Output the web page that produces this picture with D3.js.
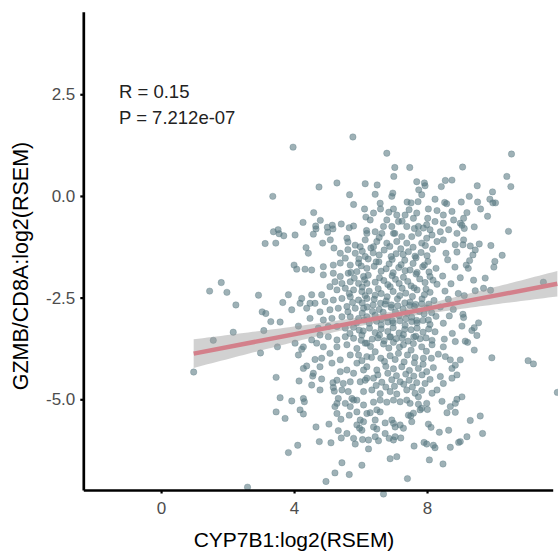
<!DOCTYPE html>
<html><head><meta charset="utf-8">
<script src="https://cdn.jsdelivr.net/npm/d3@7"></script>
<style>body{margin:0;background:#fff} text{font-family:"Liberation Sans",Arial,sans-serif}</style>
</head><body><svg id="c" width="558" height="557"></svg>
<script>
// CYP7B1 log2(RSEM) vs GZMB/CD8A log2(RSEM)
const samples = [
[3.36,-0.01],[3.38,-0.88],[3.52,-0.83],[3.55,-0.93],[3.13,-1.17],[3.45,-1.16],[1.81,-2.13],[1.46,-2.34],[1.98,-2.37],[2.93,-2.44],[2.25,-2.68],[3.04,-2.85],[3.15,-2.89],[3.30,-3.09],[3.58,-3.10],[1.57,-3.55],[2.17,-3.35],[3.09,-3.31],[2.99,-3.86],[3.50,-3.71],[0.98,-4.33],[3.46,-4.46],[3.58,-4.96],[3.46,-5.31],[2.60,-7.16],
[3.97,1.20],[5.77,1.45],[4.75,0.22],[5.29,0.32],[6.14,0.30],[5.67,0.03],[5.79,-0.21],[6.12,-0.32],[4.59,-0.41],[6.16,-0.52],[4.27,-0.65],[4.79,-0.60],[3.69,-0.98],[4.03,-0.96],[4.66,-0.81],[4.65,-0.74],[5.00,-0.77],[5.15,-0.72],[5.42,-0.69],[5.17,-0.81],[5.01,-0.89],[4.58,-0.94],[5.09,-1.08],[5.66,-0.78],[5.79,-0.74],[6.18,-0.85],[5.59,-1.04],[5.62,-1.13],[4.36,-1.27],[5.20,-1.28],[5.84,-1.21],[5.99,-1.25],
[6.79,1.05],[7.03,0.70],[7.48,0.70],[7.00,0.48],[9.07,0.71],[10.54,1.03],[10.40,0.48],[10.52,0.23],[7.69,0.35],[7.92,0.32],[7.94,0.25],[8.55,0.38],[8.75,0.39],[8.43,0.23],[9.51,0.25],[6.50,0.27],[6.44,0.04],[6.94,-0.01],[6.97,0.07],[7.75,0.15],[7.84,0.03],[9.27,-0.01],[9.97,0.10],[9.89,-0.08],[9.98,-0.17],[10.06,-0.17],[7.40,-0.15],[7.52,-0.17],[7.73,-0.14],[8.24,-0.08],[8.53,-0.16],[8.59,-0.19],[9.03,-0.15],[9.52,-0.15],[9.61,-0.32],[9.82,-0.50],[9.20,-0.41],[10.45,-0.87],[9.05,-0.72],[9.12,-0.80],[9.42,-0.76],[9.92,-1.22],[10.26,-1.46],[10.01,-1.75],[10.04,-1.61],[9.75,-2.02],[9.40,-2.07],[9.91,-2.32],[11.50,-2.12],[9.08,-1.20],[9.30,-1.23],[9.57,-1.18],[9.45,-1.33],[9.38,-1.45],[9.28,-1.59],[9.18,-1.70],[9.24,-1.78],[9.70,-2.27],[9.45,-2.33],[9.12,-2.45],[9.08,-2.91],[9.10,-2.99],[9.05,-3.20],[9.55,-3.12],[9.42,-3.24],[9.35,-3.31],[9.50,-3.43],[9.15,-3.57],[9.22,-3.60],[9.42,-3.79],[9.95,-3.98],[11.04,-4.05],[11.20,-4.13],[11.92,-4.83],[9.05,-4.94],[9.30,-5.52],[9.60,-5.41],[9.67,-5.84],[9.00,-6.04],
[6.59,-0.18],[6.60,-0.32],[6.99,-0.32],[6.39,-0.42],[6.29,-0.59],[6.79,-0.59],[7.09,-0.47],[7.34,-0.47],[7.59,-0.55],[7.69,-0.42],[8.04,-0.32],[8.30,-0.36],[8.49,-0.47],[8.75,-0.38],[8.80,-0.59],[9.00,-0.67],[9.10,-0.55],[8.49,-0.67],[8.24,-0.63],[7.99,-0.71],[8.09,-0.83],[7.89,-0.79],[7.74,-0.75],[7.39,-0.75],[7.14,-0.63],[6.94,-0.75],[6.69,-0.75],[6.44,-0.88],[6.19,-0.92],[6.14,-1.08],[6.64,-0.92],[6.99,-0.92],[7.24,-1.00],[7.54,-1.00],[7.74,-0.92],[8.15,-0.96],[8.40,-0.88],[8.65,-0.83],[8.90,-0.92],[8.49,-1.08],[8.30,-1.12],[7.99,-1.04],[7.84,-1.16],[7.39,-1.16],[7.09,-1.12],[6.79,-1.16],[6.49,-1.12],[6.39,-1.25],[9.10,-1.08],[8.85,-1.20],
[6.85,-0.40],[7.25,-0.62],[7.62,-0.80],[7.03,-0.92],[6.56,-1.02],[8.02,-0.55],[7.46,-0.34],
[4.86,-1.16],[4.43,-1.41],[5.39,-1.41],[5.54,-1.53],[5.84,-1.41],[6.14,-1.49],[4.00,-1.70],[4.08,-1.80],[4.33,-1.80],[4.53,-1.82],[4.88,-1.74],[5.18,-1.70],[5.39,-1.65],[5.69,-1.70],[5.94,-1.65],[6.19,-1.78],[4.88,-1.94],[5.18,-1.90],[5.39,-1.98],[5.63,-1.90],[5.89,-1.86],[6.09,-1.98],[5.23,-2.11],[5.44,-2.15],[5.69,-2.11],[5.94,-2.15],[6.19,-2.15],[5.08,-2.23],[5.29,-2.31],[5.54,-2.27],[5.79,-2.31],[6.04,-2.35],[3.83,-2.43],[4.23,-2.52],[4.53,-2.43],[4.83,-2.43],[4.63,-2.64],[4.38,-2.76],[4.93,-2.60],[5.18,-2.56],[5.44,-2.52],[5.69,-2.48],[5.94,-2.56],[6.19,-2.52],[3.66,-2.62],[3.93,-2.80],[4.13,-3.20],[4.48,-3.01],[4.78,-2.85],[5.08,-2.80],[5.33,-2.76],[5.59,-2.72],[5.84,-2.76],[6.09,-2.76],[4.88,-3.05],[5.14,-3.01],[5.44,-2.97],[5.69,-2.97],[5.94,-3.01],[6.19,-2.97],[4.73,-3.25],[5.03,-3.21],[5.29,-3.21],[5.54,-3.25],[5.79,-3.23],[4.78,-3.42],[4.53,-3.54],[5.03,-3.46],[5.29,-3.54],[5.54,-3.46],[5.79,-3.50],[6.04,-3.42],[6.19,-3.62],[4.28,-3.71],[4.03,-3.62],
[6.05,-1.36],[6.38,-1.40],[6.71,-1.33],[7.07,-1.42],[7.44,-1.37],[7.82,-1.39],[8.17,-1.31],[8.57,-1.41],[8.90,-1.38],
[6.23,-1.55],[6.55,-1.62],[6.95,-1.56],[7.33,-1.58],[7.67,-1.52],[8.03,-1.61],[8.62,-1.57],
[6.41,-1.73],[6.77,-1.79],[7.15,-1.76],[7.49,-1.82],[7.87,-1.74],[8.27,-1.78],[8.84,-1.75],
[6.23,-1.95],[6.57,-2.01],[6.95,-1.96],[7.29,-2.00],[7.67,-1.92],[8.09,-1.98],[8.47,-1.97],[9.00,-2.01],
[6.44,-2.12],[6.82,-2.18],[7.16,-2.15],[7.52,-2.21],[7.94,-2.13],[8.30,-2.17],[8.72,-2.16],
[6.26,-2.34],[6.62,-2.40],[6.98,-2.35],[7.36,-2.39],[7.70,-2.31],[8.09,-2.37],[8.54,-2.34],[8.94,-2.40],
[6.41,-2.54],[6.77,-2.58],[7.11,-2.53],[7.49,-2.61],[7.85,-2.53],[8.21,-2.57],[8.64,-2.54],
[6.20,-2.73],[6.56,-2.79],[6.92,-2.74],[7.28,-2.78],[7.62,-2.72],[8.00,-2.76],[8.40,-2.73],[8.79,-2.79],
[6.44,-2.93],[6.80,-2.99],[7.16,-2.94],[7.54,-2.98],[7.91,-2.90],[8.27,-2.96],[8.67,-2.95],
[6.26,-3.13],[6.62,-3.17],[6.98,-3.12],[7.34,-3.18],[7.70,-3.12],[8.09,-3.16],[8.49,-3.13],
[6.08,-3.32],[6.44,-3.36],[6.82,-3.33],[7.16,-3.37],[7.52,-3.29],[7.88,-3.35],[8.24,-3.34],[8.76,-3.38],
[6.35,-3.52],[6.71,-3.56],[7.07,-3.51],[7.43,-3.57],[7.79,-3.51],[8.15,-3.55],[8.52,-3.52],[8.85,-3.58],
[6.56,-1.45],[6.92,-1.49],[7.28,-1.44],[7.64,-1.48],[8.00,-1.47],
[6.62,-1.85],[6.98,-1.89],[7.34,-1.84],[7.70,-1.88],[8.06,-1.87],
[6.05,-2.24],[6.53,-2.28],[6.89,-2.23],[7.25,-2.27],[7.61,-2.26],[7.97,-2.29],
[6.60,-2.64],[6.93,-2.68],[7.33,-2.63],[7.66,-2.67],[8.05,-2.66],
[6.63,-3.03],[6.96,-3.07],[7.36,-3.02],[7.69,-3.06],[8.04,-3.05],
[6.57,-3.42],[6.90,-3.46],[7.29,-3.41],[7.66,-3.45],
[5.62,-1.32],[5.95,-1.55],[6.31,-1.28],[6.88,-1.24],[7.21,-1.30],[7.58,-1.26],[7.95,-1.22],[5.71,-1.88],[6.02,-1.72],[6.47,-1.62],[6.86,-1.67],[7.22,-1.69],[7.58,-1.66],[7.92,-1.70],[5.81,-2.02],[6.12,-2.06],[6.70,-2.08],[7.05,-2.05],[7.42,-2.10],[7.78,-2.04],[8.18,-2.07],[5.66,-2.40],[6.14,-2.45],[6.44,-2.44],[6.80,-2.48],[7.18,-2.45],[7.56,-2.47],[7.92,-2.43],[5.76,-2.62],[6.05,-2.63],[6.38,-2.68],[6.74,-2.66],[7.12,-2.70],[7.48,-2.69],[7.84,-2.65],[5.62,-2.85],[6.05,-2.88],[6.36,-2.84],[6.68,-2.86],[7.05,-2.85],[7.40,-2.88],[7.77,-2.84],[8.14,-2.87],[5.88,-3.12],[6.11,-3.05],[6.48,-3.08],[6.82,-3.10],[7.18,-3.07],[7.54,-3.09],[7.88,-3.06],[5.68,-3.38],[5.96,-3.30],[6.27,-3.25],[6.62,-3.27],[6.98,-3.24],[7.33,-3.28],[7.70,-3.25],[8.05,-3.27],[6.02,-3.55],[6.52,-3.49],[6.88,-3.47],[7.25,-3.50],[7.60,-3.47],[7.97,-3.49],[6.30,-3.70],[6.85,-3.74],[7.17,-3.72],[7.52,-3.79],[7.98,-3.82],[6.04,-4.05],[6.33,-3.97],[6.72,-4.07],[7.04,-4.02],[7.31,-4.08],[7.62,-4.10],[7.88,-4.14],[6.52,-4.40],[6.82,-4.36],[7.08,-4.42],[7.36,-4.38],[7.60,-4.43],[7.85,-4.40],[6.47,-4.66],[6.76,-4.70],[7.02,-4.68],[7.30,-4.63],[7.56,-4.70],
[4.18,-2.64],[4.48,-2.64],[4.23,-3.77],[4.13,-3.91],[4.63,-4.02],[4.28,-4.24],[4.15,-4.55],[4.56,-4.43],[4.83,-4.50],[4.53,-4.65],[4.78,-4.77],[5.29,-4.53],[5.18,-4.71],[5.21,-4.80],[3.93,-5.04],[4.28,-4.98],[4.31,-5.06],[3.73,-5.47],[4.18,-5.26],[4.28,-5.36],[4.66,-5.68],[5.05,-5.61],[4.76,-6.04],[5.11,-6.07],[4.11,-6.13],[3.83,-6.31],[5.29,-5.35],[5.41,-5.49],[5.33,-5.77],[5.42,-5.95],[5.59,-5.84],[5.79,-5.96],[5.84,-6.10],[6.06,-5.99],[6.24,-6.22],[5.44,-6.56],[5.23,-6.81],[5.66,-6.85],[4.96,-7.02],[6.04,-6.62],[6.69,-7.33],[6.89,-6.46],[7.09,-6.41],[7.41,-6.95],[7.61,-6.15],[7.91,-6.06],[8.07,-6.49],[8.48,-6.59],[7.99,-6.10],[8.19,-6.13],[8.24,-6.19],[8.70,-6.18],[8.95,-6.06],[8.37,-5.81],[8.04,-5.61],[8.12,-5.69],[8.60,-5.33],[8.85,-5.32],[8.90,-5.00],[8.45,-5.05],[6.39,-5.68],[6.49,-5.73],[6.74,-5.84],[7.04,-5.68],[7.21,-5.95],[7.44,-5.39],[7.51,-5.41],[7.84,-5.22],[8.01,-5.25],[8.70,-5.18],[8.85,-5.10],[5.99,-5.51],[6.19,-5.35],[6.49,-5.26],[5.89,-5.63],[6.39,-5.07],[6.59,-5.02],[6.79,-5.07],[6.99,-5.02],[7.19,-5.06],[7.39,-5.02],[7.74,-4.94],[7.99,-5.10],[5.69,-5.18],[5.79,-5.02],[5.54,-5.10],[5.29,-5.10],[5.33,-4.98],[5.23,-5.18],
[4.38,-4.18],[4.83,-3.99],[5.08,-3.87],[5.14,-4.11],[4.78,-4.20],[4.58,-4.36],[5.17,-4.59],[5.48,-4.61],[5.44,-4.77],[5.69,-4.57],[5.63,-4.81],[5.99,-4.57],[6.09,-4.81],[5.89,-5.02],[5.74,-4.98],[5.39,-4.32],[5.59,-4.28],[5.89,-4.11],[5.79,-4.36],[6.09,-4.28],[6.19,-4.48],[5.29,-3.71],[5.59,-3.66],[5.89,-3.75],[5.69,-3.91],[5.94,-3.91],[6.19,-3.95],[5.39,-4.03],[4.88,-3.71],[4.68,-3.62],[5.66,-5.39],[5.89,-5.31],[6.09,-5.14],[5.97,-5.71],
[6.14,-3.62],[6.69,-3.64],[6.99,-3.60],[7.29,-3.66],[7.59,-3.63],[7.84,-3.71],[8.15,-3.66],[8.49,-3.71],[8.55,-3.95],[8.70,-4.03],[8.85,-4.16],[8.75,-4.24],[9.00,-4.03],[8.90,-4.40],[8.75,-4.48],[8.40,-4.44],[8.49,-4.61],[8.30,-4.77],[8.15,-4.85],[7.79,-5.26],[7.59,-5.34],[7.54,-5.55],[6.94,-5.51],[6.99,-5.59],[7.19,-5.63],[6.74,-5.58],[6.44,-5.51],[6.29,-5.33],[6.59,-5.31],[6.09,-5.55],[6.04,-5.76],[6.86,-5.96],[7.04,-5.92],[7.29,-5.71],[8.65,-5.76],[9.20,-5.92],[6.24,-6.00],[6.44,-5.92],[6.54,-6.02],[6.99,-6.00],
[6.44,-3.83],[6.61,-3.99],[6.89,-3.93],[7.14,-3.87],[7.41,-3.91],[7.64,-3.97],[7.89,-3.99],[8.13,-3.99],[8.34,-3.89],[6.19,-4.20],[6.49,-4.28],[6.76,-4.19],[6.99,-4.25],[7.24,-4.20],[7.47,-4.29],[7.74,-4.24],[7.99,-4.32],[8.19,-4.22],[6.14,-4.53],[6.39,-4.48],[6.64,-4.58],[6.94,-4.52],[7.19,-4.57],[7.46,-4.53],[7.69,-4.59],[7.94,-4.61],[8.09,-4.51],[6.34,-4.77],[6.59,-4.86],[6.89,-4.81],[7.09,-4.87],[7.39,-4.77],[7.64,-4.85],[7.84,-4.78],[7.49,-5.10],[7.74,-5.12]
];
const xTicks = [0, 4, 8];
const yTicks = [2.5, 0, -2.5, -5];
const yTickLabels = ["2.5", "0.0", "-2.5", "-5.0"];
const xTitle = "CYP7B1:log2(RSEM)";
const yTitle = "GZMB/CD8A:log2(RSEM)";
const statLines = ["R = 0.15", "P = 7.212e-07"];
// linear fit and its confidence band
const fitIntercept = -4.03, fitSlope = 0.157;
const fitCentre = 6.8, seAtCentre = 0.10, seSlope = 0.058;

const svg = d3.select("#c");
const x = d3.scaleLinear().domain([-2.34, 11.78]).range([83.3, 552.7]);
const y = d3.scaleLinear().domain([-7.23, 4.53]).range([490, 11.7]);

const col = "#587982";
svg.append("g").selectAll("circle").data(samples).join("circle")
  .attr("cx", d => x(d[0])).attr("cy", d => y(d[1])).attr("r", 3.2)
  .attr("fill", col).attr("fill-opacity", 0.58)
  .attr("stroke", col).attr("stroke-opacity", 0.4).attr("stroke-width", 0.8);

const [xmin, xmax] = d3.extent(samples, d => d[0]);
const xs = d3.range(0, 81).map(i => xmin + (xmax - xmin) * i / 80);
const fit = v => fitIntercept + fitSlope * v;
const hw = v => Math.sqrt(seAtCentre * seAtCentre + seSlope * seSlope * (v - fitCentre) * (v - fitCentre));
svg.append("path").datum(xs)
  .attr("d", d3.area().x(v => x(v)).y0(v => y(fit(v) - hw(v))).y1(v => y(fit(v) + hw(v))))
  .attr("fill", "#999999").attr("fill-opacity", 0.45);
svg.append("path").datum([xmin, xmax])
  .attr("d", d3.line().x(v => x(v)).y(v => y(fit(v))))
  .attr("stroke", "#d3808b").attr("stroke-width", 4.5).attr("fill", "none");

const ax = svg.append("g").attr("transform", "translate(0,490)")
  .call(d3.axisBottom(x).tickValues(xTicks).tickFormat(d3.format("d")).tickSizeInner(3.5).tickSizeOuter(0).tickPadding(8));
const ay = svg.append("g").attr("transform", "translate(83.3,0)")
  .call(d3.axisLeft(y).tickValues(yTicks).tickFormat((d, i) => yTickLabels[i]).tickSizeInner(3).tickSizeOuter(0).tickPadding(5));
[ax, ay].forEach(g => {
  g.select(".domain").attr("stroke", "#000").attr("stroke-width", 2.7);
  g.selectAll(".tick line").attr("stroke", "#000").attr("stroke-width", 2.2);
  g.selectAll(".tick text").attr("fill", "#4d4d4d").style("font-size", "17px")
    .style("font-family", "'Liberation Sans',Arial,sans-serif");
});

svg.append("text").attr("x", 294).attr("y", 547).attr("text-anchor", "middle")
  .style("font-size", "21px").attr("fill", "#000").text(xTitle);
svg.append("text").attr("transform", "translate(28,266) rotate(-90)").attr("text-anchor", "middle")
  .style("font-size", "21.5px").attr("fill", "#000").text(yTitle);
svg.append("g").selectAll("text").data(statLines).join("text")
  .attr("x", 119).attr("y", (d, i) => 98.3 + i * 25.7)
  .style("font-size", "18.5px").attr("fill", "#222").text(d => d);
</script></body></html>
